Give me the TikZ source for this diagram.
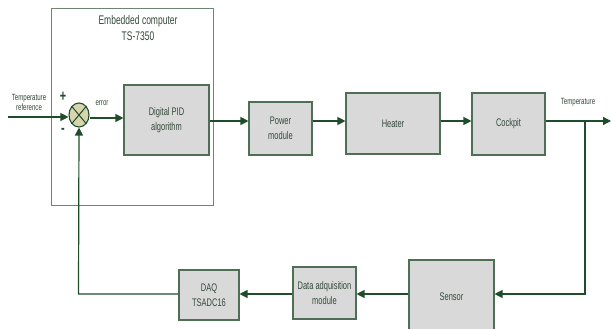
\documentclass[tikz,border=0pt]{standalone}
\usepackage{fontspec}
\setmainfont{Liberation Sans}[FakeStretch=0.68]
\usetikzlibrary{arrows.meta,shapes.geometric}
\definecolor{ln}{HTML}{1F4D2C}
\definecolor{bd}{HTML}{4E6E56}
\definecolor{tx}{HTML}{34493A}
\definecolor{bx}{HTML}{D9D9D9}
\definecolor{sj}{HTML}{D8D5AE}
\definecolor{eb}{HTML}{6E8573}
\tikzset{
  blk/.style={draw=bd, line width=1.1pt, fill=bx, text=tx, font=\fontsize{11}{12}\selectfont, align=center, inner sep=0pt},
  arr/.style={draw=ln, line width=1.2pt, -{Triangle[length=8pt,width=8pt]}},
  ln/.style={draw=ln, line width=1.2pt},
  lbl/.style={text=tx, align=center, inner sep=0pt},
}
\begin{document}
\begin{tikzpicture}[x=1pt,y=-1pt]
\useasboundingbox (0,0) rectangle (611,329);
\clip (0,0) rectangle (611,329);
\fill[white] (0,0) rectangle (611,329);
% embedded computer frame
\draw[eb, line width=0.9pt] (51,8) rectangle (213,205);
\node[lbl, font=\fontsize{12.5}{14}\selectfont] (title) at (138,28) {Embedded computer\\[2pt]TS-7350};
% blocks
\node[blk, minimum width=85pt, minimum height=70pt] (pid) at (166.5,120) {Digital PID\\[3pt]algorithm};
\node[blk, minimum width=63pt, minimum height=53pt] (pow) at (280.5,128.5) {Power\\[3pt]module};
\node[blk, minimum width=94pt, minimum height=61pt] (heat) at (393,123.5) {Heater};
\node[blk, minimum width=73pt, minimum height=62pt] (cock) at (508.5,124) {Cockpit};
\node[blk, minimum width=60pt, minimum height=50pt] (daq) at (209,295) {DAQ\\[3pt]TSADC16};
\node[blk, minimum width=63pt, minimum height=52pt] (dam) at (324.5,293) {Data adquisition\\[3pt]module};
\node[blk, minimum width=85pt, minimum height=80pt] (sen) at (451.5,300) {\raisebox{7pt}{Sensor}};
% summing junction
\node[ellipse, draw=ln, line width=1.1pt, fill=sj, minimum width=20pt, minimum height=24pt, inner sep=0pt] (sum) at (79,115) {};
\draw[ln, line width=1pt] (sum.north west) -- (sum.south east) (sum.north east) -- (sum.south west);
% labels
\node[lbl, font=\fontsize{9}{10}\selectfont] (tref) at (29,102) {Temperature\\reference};
\node[lbl, font=\fontsize{9}{10}\selectfont] (err) at (102,103) {error};
\node[lbl, font=\fontsize{9}{10}\selectfont] (tout) at (578,102) {Temperature};
\node[text=ln, font=\bfseries\fontsize{16}{16}\selectfont, inner sep=0pt] (plus) at (63,97) {+};
\node[text=ln, font=\bfseries\fontsize{16}{16}\selectfont, inner sep=0pt] (minus) at (63,131) {-};
% coordinates
\coordinate (in) at (8,117);
\coordinate (m) at (0,121);
\coordinate (outend) at (611,121);
\coordinate (br) at (585,121);
\coordinate (fb) at (0,294);
\coordinate (cr) at (585,294);
\coordinate (cl) at (78.5,294);
% forward path
\draw[arr] (in) -- (sum.west |- in);
\draw[arr] (sum.east |- 0,118) -- (pid.west |- 0,118);
\draw[arr] (pid.east |- m) -- (pow.west |- m);
\draw[arr] (pow.east |- m) -- (heat.west |- m);
\draw[arr] (heat.east |- m) -- (cock.west |- m);
\draw[arr] (cock.east |- m) -- (outend);
% feedback path
\draw[arr] (br) -- (cr) -- (sen.east |- fb);
\draw[arr] (sen.west |- fb) -- (dam.east |- fb);
\draw[arr] (dam.west |- fb) -- (daq.east |- fb);
\draw[arr] (daq.west |- fb) -- (cl) -- (sum.south);
\end{tikzpicture}
\end{document}
